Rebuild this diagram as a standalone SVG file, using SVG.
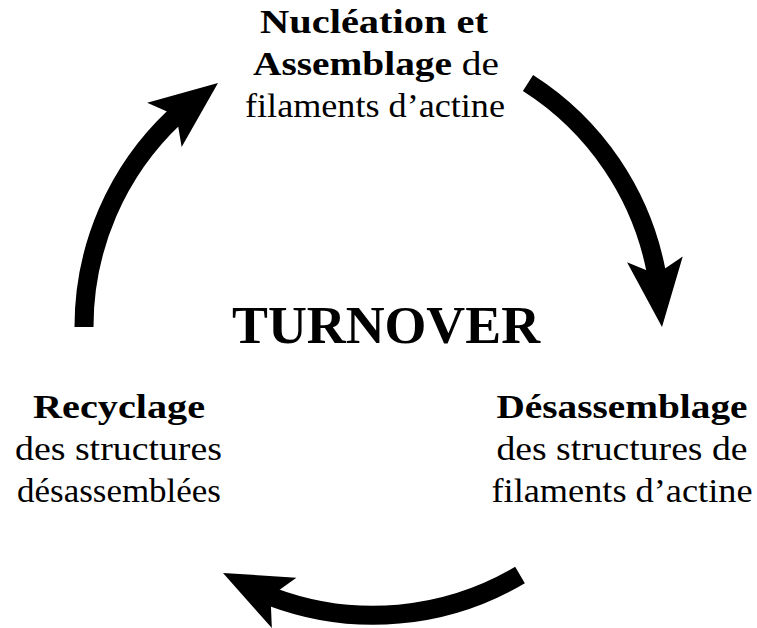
<svg xmlns="http://www.w3.org/2000/svg" xmlns:xlink="http://www.w3.org/1999/xlink" width="757" height="628" viewBox="0 0 757 628">
<style>
  .t { font-family: "Liberation Serif", "Times New Roman", serif; font-size: 33px; fill: #000; text-anchor: middle; }
  .b { font-weight: bold; }
  .big { font-family: "Liberation Serif", "Times New Roman", serif; font-size: 52px; font-weight: bold; fill: #000; text-anchor: middle; }
  .shaft { fill: none; stroke: #000; stroke-width: 19; stroke-linecap: butt; }
  .head { fill: #000; }
</style>
<defs>
  <path id="head" d="M0,0 L-68,-28 L-58,-9.5 L-58,9.5 L-68,28 Z"/>
</defs>
<rect width="757" height="628" fill="#fff"/>
<g id="connectors">
  <path class="shaft" d="M84,327 A288,288 0 0 1 174.7,116.9"/>
  <use class="head" xlink:href="#head" transform="translate(218,83) rotate(-38)"/>
  <path class="shaft" d="M528,83 A288,288 0 0 1 656.3,272.3"/>
  <use class="head" xlink:href="#head" transform="translate(662,327) rotate(84)"/>
  <path class="shaft" d="M520,575 A288,288 0 0 1 272.4,597.1"/>
  <use class="head" xlink:href="#head" transform="translate(223,573) rotate(206)"/>
</g>
<g id="center">
  <text class="big" x="386" y="343" textLength="308" lengthAdjust="spacingAndGlyphs">TURNOVER</text>
</g>
<g id="nucleation">
  <text class="t b" x="374" y="33" textLength="228" lengthAdjust="spacingAndGlyphs">Nucléation et</text>
  <text class="t" x="376" y="75" textLength="246" lengthAdjust="spacingAndGlyphs"><tspan class="b">Assemblage</tspan> de</text>
  <text class="t" x="375" y="117" textLength="260" lengthAdjust="spacingAndGlyphs">filaments d’actine</text>
</g>
<g id="desassemblage">
  <text class="t b" x="622" y="418" textLength="251" lengthAdjust="spacingAndGlyphs">Désassemblage</text>
  <text class="t" x="622" y="460" textLength="251" lengthAdjust="spacingAndGlyphs">des structures de</text>
  <text class="t" x="622" y="502" textLength="261" lengthAdjust="spacingAndGlyphs">filaments d’actine</text>
</g>
<g id="recyclage">
  <text class="t b" x="119" y="418" textLength="172" lengthAdjust="spacingAndGlyphs">Recyclage</text>
  <text class="t" x="118.5" y="460" textLength="207" lengthAdjust="spacingAndGlyphs">des structures</text>
  <text class="t" x="119" y="502" textLength="204" lengthAdjust="spacingAndGlyphs">désassemblées</text>
</g>
</svg>
